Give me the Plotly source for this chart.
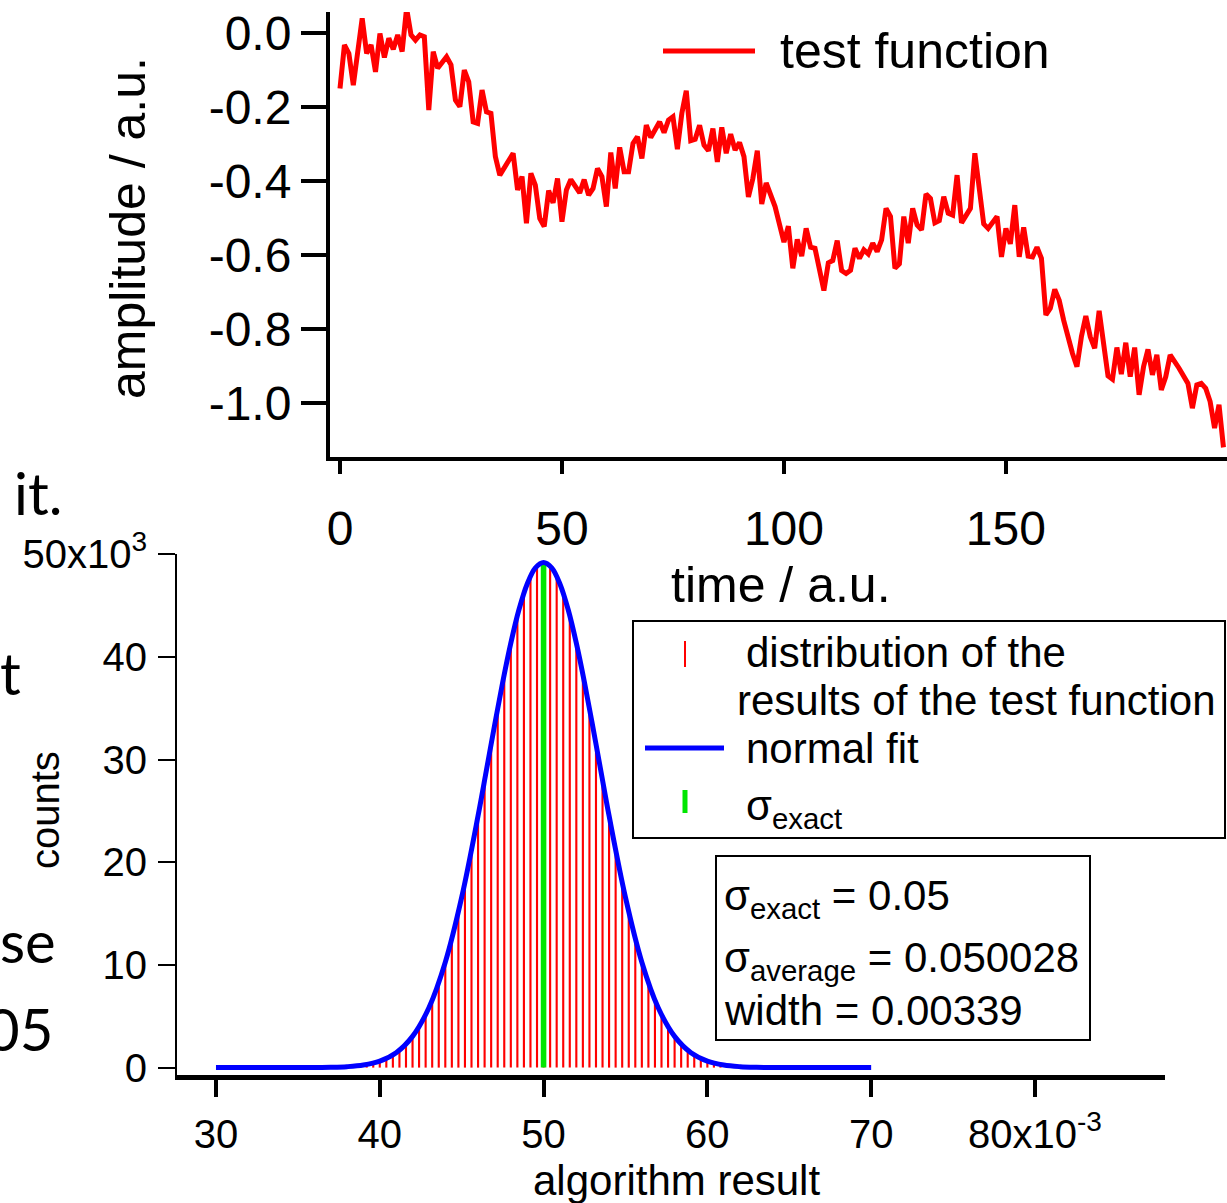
import plotly.graph_objects as go

W, H = 1227, 1203
FONT = "Liberation Sans, Arial, sans-serif"

# ---------------- data: top chart (test function) ----------------
time = [0, 1, 2, 3, 5, 6, 7, 8, 9, 10, 11, 12, 13, 14, 15, 16, 17, 18, 19, 20,
        21, 22, 24, 25, 26, 27, 28, 29, 30, 31, 32, 33, 34, 35, 36, 38, 39, 40,
        41, 42, 43, 44, 45, 46, 47, 48, 49, 50, 51, 52, 54, 55, 56, 57, 58, 59,
        60, 61, 62, 63, 64, 65, 66, 67, 68, 69, 70, 72, 73, 74, 75, 76, 77, 78,
        79, 80, 81, 82, 83, 84, 85, 86, 87, 88, 89, 90, 91, 92, 93, 94, 95, 96,
        98, 100, 101, 102, 103, 104, 105, 106, 107, 109, 110, 111, 112, 113,
        114, 115, 116, 117, 118, 119, 120, 121, 122, 123, 124, 125, 126, 127,
        128, 129, 130, 131, 132, 133, 134, 135, 136, 137, 138, 139, 140, 142,
        143, 145, 146, 148, 149, 150, 151, 152, 153, 154, 155, 156, 157, 158,
        159, 160, 161, 162, 163, 165, 166, 167, 168, 169, 170, 171, 172, 173,
        174, 175, 176, 177, 178, 179, 180, 181, 182, 183, 184, 185, 186, 187,
        189, 191, 192, 193, 194, 195, 196, 197, 198, 199]
amplitude = [-0.150, -0.032, -0.055, -0.141, 0.040, -0.055, -0.032, -0.105,
             -0.001, -0.066, -0.014, -0.044, -0.005, -0.050, 0.067, -0.005,
             -0.019, -0.005, -0.010, -0.208, -0.050, -0.095, -0.064, -0.086,
             -0.181, -0.199, -0.100, -0.132, -0.240, -0.244, -0.154, -0.213,
             -0.217, -0.334, -0.384, -0.345, -0.325, -0.424, -0.388, -0.514,
             -0.379, -0.411, -0.501, -0.523, -0.426, -0.459, -0.393, -0.510,
             -0.424, -0.396, -0.432, -0.396, -0.438, -0.420, -0.366, -0.388,
             -0.469, -0.323, -0.420, -0.309, -0.375, -0.375, -0.298, -0.280,
             -0.339, -0.249, -0.282, -0.240, -0.269, -0.235, -0.226, -0.314,
             -0.217, -0.156, -0.291, -0.287, -0.249, -0.303, -0.318, -0.258,
             -0.348, -0.255, -0.325, -0.273, -0.316, -0.296, -0.334, -0.443,
             -0.393, -0.318, -0.462, -0.405, -0.469, -0.565, -0.522, -0.636,
             -0.558, -0.603, -0.528, -0.579, -0.582, -0.696, -0.621, -0.615,
             -0.561, -0.642, -0.650, -0.641, -0.582, -0.609, -0.586, -0.597,
             -0.568, -0.591, -0.559, -0.474, -0.496, -0.636, -0.624, -0.496,
             -0.568, -0.474, -0.519, -0.532, -0.435, -0.447, -0.513, -0.507,
             -0.442, -0.487, -0.492, -0.384, -0.513, -0.474, -0.325, -0.516,
             -0.528, -0.496, -0.605, -0.528, -0.570, -0.465, -0.605, -0.525,
             -0.603, -0.605, -0.579, -0.609, -0.762, -0.744, -0.693, -0.722,
             -0.776, -0.866, -0.902, -0.821, -0.765, -0.821, -0.852, -0.751,
             -0.852, -0.927, -0.936, -0.850, -0.922, -0.837, -0.929, -0.850,
             -0.978, -0.902, -0.855, -0.924, -0.870, -0.965, -0.929, -0.870,
             -0.906, -0.947, -1.014, -0.951, -0.947, -0.960, -0.996, -1.068,
             -1.005, -1.120]

top_xticks = [0, 50, 100, 150]
top_yticks = [0.0, -0.2, -0.4, -0.6, -0.8, -1.0]
top_yticktext = ["0.0", "-0.2", "-0.4", "-0.6", "-0.8", "-1.0"]

# ---------------- data: bottom chart (histogram, x in 1e-3, counts in 1e3) ----------------
bin_pos = [38.0, 38.4, 38.8, 39.2, 39.6, 40.0, 40.4, 40.8, 41.2, 41.6, 42.0, 42.4,
           42.8, 43.2, 43.6, 44.0, 44.4, 44.8, 45.2, 45.6, 46.0, 46.4, 46.8, 47.2,
           47.6, 48.0, 48.4, 48.8, 49.2, 49.6, 50.0, 50.4, 50.8, 51.2, 51.6, 52.0,
           52.4, 52.8, 53.2, 53.6, 54.0, 54.4, 54.8, 55.2, 55.6, 56.0, 56.4, 56.8,
           57.2, 57.6, 58.0, 58.4, 58.8, 59.2, 59.6, 60.0, 60.4, 60.8, 61.2, 61.6,
           62.0]
bin_counts = [0.09, 0.14, 0.21, 0.31, 0.44, 0.63, 0.89, 1.24, 1.69, 2.28, 3.04,
              3.98, 5.16, 6.58, 8.28, 10.27, 12.57, 15.17, 18.05, 21.19, 24.52,
              27.99, 31.51, 34.98, 38.29, 41.34, 44.01, 46.21, 47.85, 48.86,
              49.20, 48.86, 47.85, 46.21, 44.01, 41.34, 38.29, 34.98, 31.51,
              27.99, 24.52, 21.19, 18.05, 15.17, 12.57, 10.27, 8.28, 6.58, 5.16,
              3.98, 3.04, 2.28, 1.69, 1.24, 0.89, 0.63, 0.44, 0.31, 0.21, 0.14,
              0.09]
fit_x = [30, 31, 32, 33, 34, 35, 36, 37, 38, 39, 40, 41, 42, 43, 44, 45, 46, 46.5,
         47, 47.5, 48, 48.5, 49, 49.5, 50, 50.5, 51, 51.5, 52, 52.5, 53, 53.5, 54,
         55, 56, 57, 58, 59, 60, 61, 62, 63, 64, 65, 66, 67, 68, 69, 70]
fit_y = [0.0, 0.0, 0.0, 0.0, 0.0, 0.0, 0.01, 0.03, 0.09, 0.25, 0.63, 1.45, 3.04,
         5.83, 10.27, 16.58, 24.52, 28.87, 33.26, 37.49, 41.34, 44.61, 47.10,
         48.67, 49.20, 48.67, 47.10, 44.61, 41.34, 37.49, 33.26, 28.87, 24.52,
         16.58, 10.27, 5.83, 3.04, 1.45, 0.63, 0.25, 0.09, 0.03, 0.01, 0.0, 0.0,
         0.0, 0.0, 0.0, 0.0]
exact_x = [50.0]
exact_y = [49.2]

bot_xticks = [30, 40, 50, 60, 70, 80]
bot_xticktext = ["30", "40", "50", "60", "70", "80x10<sup>-3</sup>"]
bot_yticks = [0, 10, 20, 30, 40, 50]
bot_yticktext = ["0", "10", "20", "30", "40", "50x10<sup>3</sup>"]


def px(x):
    return x / W


def py(y):
    return 1 - y / H


fig = go.Figure()

fig.add_trace(go.Scatter(x=time, y=amplitude, mode="lines",
                         line=dict(color="#ff0000", width=5),
                         xaxis="x", yaxis="y", showlegend=False))

fig.add_trace(go.Bar(x=bin_pos, y=bin_counts, width=0.13,
                     marker=dict(color="#ff0000", line=dict(width=0)),
                     xaxis="x2", yaxis="y2", showlegend=False))
fig.add_trace(go.Bar(x=exact_x, y=exact_y, width=0.34,
                     marker=dict(color="#00e600", line=dict(width=0)),
                     xaxis="x2", yaxis="y2", showlegend=False))
fig.add_trace(go.Scatter(x=fit_x, y=fit_y, mode="lines",
                         line=dict(color="#0000ff", width=5, shape="spline",
                                   smoothing=1.0),
                         xaxis="x2", yaxis="y2", showlegend=False))

axis_common = dict(showgrid=False, zeroline=False, showline=True,
                   linecolor="black", ticks="outside", tickcolor="black",
                   color="black", automargin=False, ticklabeloverflow="allow")

fig.update_layout(
    width=W, height=H, autosize=False,
    margin=dict(l=0, r=0, t=0, b=0, pad=0),
    paper_bgcolor="white", plot_bgcolor="white",
    font=dict(family=FONT, color="black"),
    barmode="overlay", showlegend=False,
    xaxis=dict(domain=[px(330), 1.0], range=[-2.25, 199.8], anchor="y",
               tickvals=top_xticks, linewidth=4, tickwidth=4, ticklen=13,
               tickfont=dict(size=48, family=FONT), ticklabelstandoff=13,
               **axis_common),
    yaxis=dict(domain=[py(457), py(12)], range=[-1.146, 0.057], anchor="x",
               tickvals=top_yticks, ticktext=top_yticktext, linewidth=4,
               tickwidth=4, ticklen=25, tickfont=dict(size=48, family=FONT),
               ticklabelstandoff=0, **axis_common),
    xaxis2=dict(domain=[px(177), px(1165)], range=[27.62, 87.94], anchor="y2",
                tickvals=bot_xticks, ticktext=bot_xticktext, linewidth=5,
                tickwidth=4, ticklen=17, tickfont=dict(size=40, family=FONT),
                ticklabelstandoff=3, **axis_common),
    yaxis2=dict(domain=[py(1075), py(554)], range=[-0.72, 50.02], anchor="x2",
                tickvals=bot_yticks, ticktext=bot_yticktext, linewidth=2,
                tickwidth=2, ticklen=17, tickfont=dict(size=40, family=FONT),
                ticklabelstandoff=3, **axis_common),
)

annotations = []


def ann(text, x, y, size, xanchor="center", yanchor="middle", angle=0, family=FONT):
    annotations.append(dict(text=text, x=px(x), y=py(y), xref="paper", yref="paper",
                            xanchor=xanchor, yanchor=yanchor, showarrow=False,
                            textangle=angle, font=dict(size=size, family=family,
                                                       color="black")))


# axis titles
ann("time / a.u.", 781, 585, 50)
ann("amplitude / a.u.", 128, 228, 50, angle=-90)
ann("counts", 45, 810, 40, angle=-90)
ann("algorithm result", 676, 1180, 42)

# top legend
ann("test function", 778, 51, 50, xanchor="left")

# bottom legend
ann("distribution of the", 744, 652, 42, xanchor="left")
ann("results of the test function", 735, 700, 42, xanchor="left")
ann("normal fit", 744, 748, 42, xanchor="left")
ann("σ<sub>exact</sub>", 744, 808, 42, xanchor="left")

# statistics box
ann("σ<sub>exact</sub> = 0.05", 722, 898, 42, xanchor="left")
ann("σ<sub>average</sub> = 0.050028", 722, 960, 42, xanchor="left")
ann("width = 0.00339", 722, 1010, 42, xanchor="left")

# background slide fragments
SLIDE = "Lato, Open Sans, sans-serif"
ann("it.", 12, 492, 58, xanchor="left", family=SLIDE)
ann("t", -2, 672, 58, xanchor="left", family=SLIDE)
ann("se", -2, 940, 58, xanchor="left", family=SLIDE)
ann("05", -16, 1028, 58, xanchor="left", family=SLIDE)

fig.update_layout(annotations=annotations)

shapes = []


def seg(x0, y0, x1, y1, color, width):
    shapes.append(dict(type="line", xref="paper", yref="paper",
                       x0=px(x0), y0=py(y0), x1=px(x1), y1=py(y1),
                       line=dict(color=color, width=width)))


def box(x0, y0, x1, y1):
    shapes.append(dict(type="rect", xref="paper", yref="paper",
                       x0=px(x0), y0=py(y0), x1=px(x1), y1=py(y1),
                       line=dict(color="black", width=2), fillcolor="rgba(0,0,0,0)"))


seg(663, 51, 755, 51, "#ff0000", 5)
box(633, 621, 1225, 838)
seg(685, 641, 685, 667, "#ff0000", 2)
seg(645, 748, 724, 748, "#0000ff", 5)
seg(685, 790, 685, 813, "#00e600", 5)
box(716, 856, 1090, 1040)

fig.update_layout(shapes=shapes)

fig.write_html("out.html",
               config={"displayModeBar": False},
               post_script="document.body.style.margin='0px';"
                           "document.body.style.overflow='hidden';")
